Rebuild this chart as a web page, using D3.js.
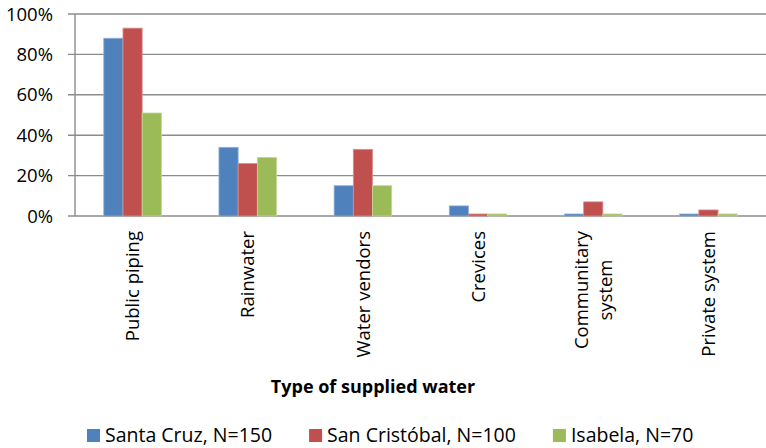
<!DOCTYPE html>
<html>
<head>
<meta charset="utf-8">
<script src="https://cdn.jsdelivr.net/npm/d3@7"></script>
<style>
  body { margin: 0; background: #fff; }
  text { font-family: "Open Sans", sans-serif; fill: #000; }
</style>
</head>
<body>
<div id="chart"></div>
<script>
// Données (en %)
var categories = ["Public piping", "Rainwater", "Water vendors", "Crevices", "Communitary system", "Private system"];
var series = ["Santa Cruz, N=150", "San Cristóbal, N=100", "Isabela, N=70"];
var santaCruz = [88, 34, 15, 5, 1, 1];
var sanCristobal = [93, 26, 33, 1, 7, 3];
var isabela = [51, 29, 15, 1, 1, 1];
var yTicks = [0, 20, 40, 60, 80, 100];
var labelBreaks = {"Communitary system": ["Communitary", "system"]};
var axisTitle = "Type of supplied water";

var colors = ["#4F81BD", "#C0504D", "#9BBB59"];
var strokes = ["#8fb0d9", "#dc8e8c", "#c3d89a"];
var values = [santaCruz, sanCristobal, isabela];

var W = 766, H = 448;
var plot = {left: 75, right: 766, top: 14, bottom: 216};

var svg = d3.select("#chart").append("svg")
    .attr("width", W)
    .attr("height", H);

var x = d3.scaleBand().domain(categories).range([plot.left, plot.right]).padding(0);
var xInner = d3.scaleBand().domain(d3.range(series.length))
    .range([x.bandwidth() * 0.25, x.bandwidth() * 0.75]).padding(0);
var y = d3.scaleLinear().domain([0, 100]).range([plot.bottom, plot.top]);

// Grille horizontale + petites graduations
svg.append("g").selectAll("line")
    .data(yTicks)
    .enter().append("line")
    .attr("x1", plot.left - 7)
    .attr("x2", plot.right)
    .attr("y1", function(d){ return y(d); })
    .attr("y2", function(d){ return y(d); })
    .attr("stroke", "#8c8c8c")
    .attr("stroke-width", 1.4);

// Axe vertical
svg.append("line")
    .attr("x1", plot.left).attr("x2", plot.left)
    .attr("y1", y(100)).attr("y2", y(0))
    .attr("stroke", "#8c8c8c")
    .attr("stroke-width", 1.4);

// Étiquettes de l'axe Y
svg.append("g").selectAll("text")
    .data(yTicks)
    .enter().append("text")
    .attr("x", plot.left - 22)
    .attr("y", function(d){ return y(d); })
    .attr("dy", "0.36em")
    .attr("text-anchor", "end")
    .style("font-size", "18.5px")
    .text(function(d){ return d + "%"; });

// Barres
var groups = svg.append("g").selectAll("g")
    .data(categories)
    .enter().append("g")
    .attr("transform", function(d){ return "translate(" + x(d) + ",0)"; });

groups.selectAll("rect")
    .data(function(d, i){ return values.map(function(v, s){ return {s: s, v: v[i]}; }); })
    .enter().append("rect")
    .attr("x", function(d){ return xInner(d.s); })
    .attr("width", xInner.bandwidth())
    .attr("y", function(d){ return y(d.v); })
    .attr("height", function(d){ return y(0) - y(d.v); })
    .attr("fill", function(d){ return colors[d.s]; })
    .attr("stroke", function(d){ return strokes[d.s]; })
    .attr("stroke-width", 0.8);

// Étiquettes des catégories (tournées)
var labelTop = 231;
categories.forEach(function(c){
    var lines = labelBreaks[c] || [c];
    var cx = x(c) + x.bandwidth() / 2;
    var g = svg.append("g")
        .attr("transform", "translate(" + cx + "," + labelTop + ") rotate(-90)");
    var lineH = 24;
    var texts = g.selectAll("text")
        .data(lines)
        .enter().append("text")
        .attr("y", function(d, i){ return (i - (lines.length - 1) / 2) * lineH; })
        .attr("dy", "0.36em")
        .attr("text-anchor", "middle")
        .style("font-size", "18.5px")
        .text(function(d){ return d; });
    var maxLen = 0;
    texts.each(function(){ maxLen = Math.max(maxLen, this.getComputedTextLength()); });
    texts.attr("x", -maxLen / 2);
});

// Titre de l'axe X
svg.append("text")
    .attr("x", 373)
    .attr("y", 393)
    .attr("text-anchor", "middle")
    .style("font-size", "18px")
    .style("font-weight", "bold")
    .text(axisTitle);

// Légende
var legend = svg.append("g");
var lx = 87, ly = 429;
series.forEach(function(s, i){
    legend.append("rect")
        .attr("x", lx).attr("y", ly)
        .attr("width", 13).attr("height", 13)
        .attr("fill", colors[i]);
    var t = legend.append("text")
        .attr("x", lx + 18)
        .attr("y", ly + 13)
        .style("font-size", "19.5px")
        .text(s);
    lx = lx + 18 + t.node().getComputedTextLength() + 37;
});
</script>
</body>
</html>
